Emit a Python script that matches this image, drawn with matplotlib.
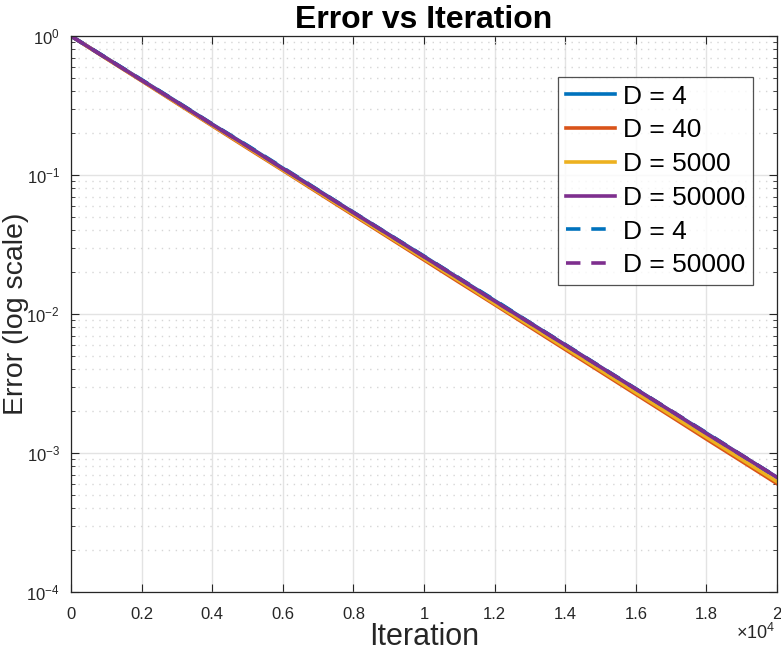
import numpy as np
import matplotlib.pyplot as plt
from matplotlib.ticker import LogLocator, FixedLocator, NullFormatter

plt.rcParams['font.family'] = ['Liberation Sans', 'DejaVu Sans']
plt.rcParams['mathtext.fontset'] = 'custom'
plt.rcParams['mathtext.rm'] = 'Liberation Sans'
plt.rcParams['mathtext.it'] = 'Liberation Sans'

# iteration grid (read every 1000 iterations)
iters = [0, 1000, 2000, 3000, 4000, 5000, 6000, 7000, 8000, 9000, 10000,
         11000, 12000, 13000, 14000, 15000, 16000, 17000, 18000, 19000, 20000]

err_d4 = [1.0, 0.695, 0.483, 0.336, 0.232, 0.162, 0.112, 0.0778, 0.0538, 0.0374, 0.0260,
          0.0180, 0.0125, 0.00866, 0.00600, 0.00416, 0.00289, 0.00200, 0.00139, 0.000962, 0.000668]
err_d40 = [1.0, 0.689, 0.476, 0.328, 0.226, 0.156, 0.108, 0.0745, 0.0514, 0.0355, 0.0245,
           0.0169, 0.0117, 0.00806, 0.00556, 0.00384, 0.00265, 0.00183, 0.00126, 0.000872, 0.000602]
err_d5000 = [1.0, 0.690, 0.478, 0.330, 0.228, 0.158, 0.109, 0.0755, 0.0522, 0.0361, 0.0250,
             0.0173, 0.0119, 0.00825, 0.00570, 0.00394, 0.00272, 0.00188, 0.00130, 0.000900, 0.000622]
err_d50000 = [1.0, 0.693, 0.481, 0.334, 0.231, 0.161, 0.111, 0.0772, 0.0536, 0.0372, 0.0258,
              0.0179, 0.0124, 0.00861, 0.00598, 0.00415, 0.00288, 0.00200, 0.00138, 0.000962, 0.000668]
err_d4_b = [1.0, 0.696, 0.485, 0.337, 0.233, 0.163, 0.113, 0.0780, 0.0540, 0.0375, 0.0261,
            0.0181, 0.0126, 0.00868, 0.00603, 0.00418, 0.00290, 0.00201, 0.00140, 0.000965, 0.000670]
err_d50000_b = [1.0, 0.694, 0.482, 0.335, 0.232, 0.161, 0.112, 0.0775, 0.0537, 0.0373, 0.0259,
                0.0180, 0.0124, 0.00864, 0.00600, 0.00416, 0.00289, 0.00201, 0.00139, 0.000964, 0.000669]

xtick_vals = [0, 2000, 4000, 6000, 8000, 10000, 12000, 14000, 16000, 18000, 20000]
xtick_labels = ['0', '0.2', '0.4', '0.6', '0.8', '1', '1.2', '1.4', '1.6', '1.8', '2']

blue, orange, yellow, purple = '#0072BD', '#D95319', '#EDB120', '#7E2F8E'
dark = '#262626'

fig = plt.figure(figsize=(7.81, 6.51), dpi=100)
ax = fig.add_axes([71/781, 59/651, 706/781, 556/651])

lw = 2.6
dash = (0, (4, 3))
ax.plot(iters, err_d4, color=blue, lw=lw, label='D = 4')
ax.plot(iters, err_d40, color=orange, lw=lw, label='D = 40')
ax.plot(iters, err_d5000, color=yellow, lw=lw, label='D = 5000')
ax.plot(iters, err_d50000, color=purple, lw=lw, label='D = 50000')
ax.plot(iters, err_d4_b, color=blue, lw=lw, ls=dash, label='D = 4')
ax.plot(iters, err_d50000_b, color=purple, lw=lw, ls=dash, label='D = 50000')

ax.set_yscale('log')
ax.set_xlim(0, 20000)
ax.set_ylim(1e-4, 1)
ax.xaxis.set_major_locator(FixedLocator(xtick_vals))
ax.set_xticklabels(xtick_labels)
ax.yaxis.set_major_locator(LogLocator(base=10, numticks=10))
ax.yaxis.set_minor_locator(LogLocator(base=10, subs=np.arange(2, 10), numticks=20))
ax.yaxis.set_minor_formatter(NullFormatter())

ax.grid(True, which='major', color='#e3e3e3', lw=1.0)
ax.grid(True, which='minor', axis='y', color='#d6d6d6', lw=1.0, ls=(0, (1, 4)))
ax.set_axisbelow(True)

ax.tick_params(which='both', direction='in', top=True, right=True, colors=dark,
               labelcolor=dark, labelsize=12)
ax.tick_params(axis='x', which='major', pad=11)
ax.tick_params(axis='y', which='major', pad=8)
ax.tick_params(which='major', length=6, width=0.8)
ax.tick_params(which='minor', length=3, width=0.6)
for s in ax.spines.values():
    s.set_color(dark)
    s.set_linewidth(0.9)

ax.set_xlabel('Iteration', fontsize=22, color=dark, labelpad=0)
ax.set_ylabel('Error (log scale)', fontsize=20.5, color=dark)
ax.yaxis.set_label_coords(-0.060, 0.5)
ax.set_title('Error vs Iteration', fontsize=23, fontweight='bold', pad=6)
fig.text(775/781, 1 - 633/651, r'$\times10^{4}$', ha='right', va='center',
         fontsize=13, color=dark)

leg = ax.legend(loc='upper right', bbox_to_anchor=(0.966, 0.927), fontsize=19,
                frameon=True, fancybox=False, edgecolor=dark, handlelength=1.85,
                handletextpad=0.3, labelspacing=0.37, borderpad=0.3, borderaxespad=0)
leg.get_frame().set_linewidth(0.9)

fig.savefig('out.png', dpi=100)
